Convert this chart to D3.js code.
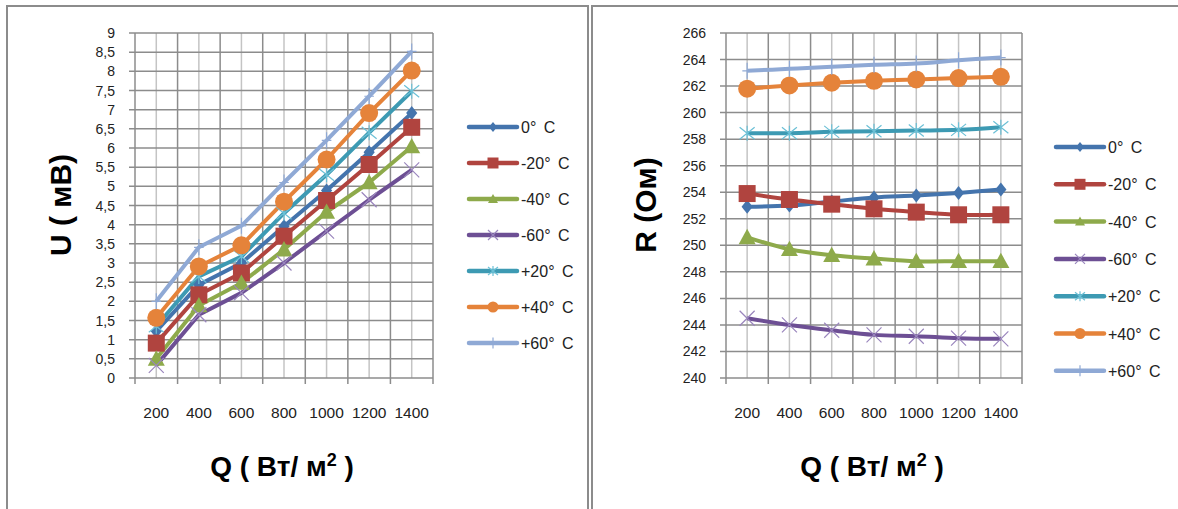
<!DOCTYPE html>
<html>
<head>
<meta charset="utf-8">
<script src="https://cdn.jsdelivr.net/npm/d3@7"></script>
<style>
body{margin:0;background:#fff;}
svg{display:block;font-family:"Liberation Sans",Arial,sans-serif;}
</style>
</head>
<body>
<svg width="1178" height="509"></svg>
<script>
// Q, W/m2
var categories = [200, 400, 600, 800, 1000, 1200, 1400];
var seriesNames = ["0° C", "-20° C", "-40° C", "-60° C", "+20° C", "+40° C", "+60° C"];
var colors = ["#4474ad", "#b0443f", "#8eaa4b", "#6d4f94", "#3d9ab3", "#e5833a", "#8fa9d5"];
var markerColors = ["#4474ad", "#b0443f", "#8eaa4b", "#9a86bd", "#6cc0d6", "#e5833a", "#8fa9d5"];
var markers = ["diamond", "square", "triangle", "x", "star", "circle", "plus"];

// U (mV)
var u_0   = [1.22, 2.43, 3.00, 3.96, 4.89, 5.89, 6.91];
var u_m20 = [0.91, 2.17, 2.74, 3.70, 4.63, 5.57, 6.54];
var u_m40 = [0.50, 1.89, 2.48, 3.35, 4.33, 5.10, 6.04];
var u_m60 = [0.33, 1.65, 2.22, 3.00, 3.83, 4.65, 5.43];
var u_p20 = [1.35, 2.65, 3.17, 4.30, 5.30, 6.40, 7.48];
var u_p40 = [1.57, 2.91, 3.46, 4.60, 5.70, 6.91, 8.02];
var u_p60 = [2.00, 3.41, 3.97, 5.10, 6.20, 7.35, 8.52];
var uTicks = [0, 0.5, 1, 1.5, 2, 2.5, 3, 3.5, 4, 4.5, 5, 5.5, 6, 6.5, 7, 7.5, 8, 8.5, 9];

// R (Ohm)
var r_0   = [252.9, 253.0, 253.3, 253.6, 253.75, 253.95, 254.2];
var r_m20 = [253.9, 253.45, 253.1, 252.75, 252.5, 252.3, 252.3];
var r_m40 = [250.6, 249.7, 249.25, 249.0, 248.8, 248.8, 248.8];
var r_m60 = [244.5, 244.0, 243.6, 243.25, 243.15, 243.0, 242.95];
var r_p20 = [258.45, 258.45, 258.55, 258.6, 258.65, 258.7, 258.9];
var r_p40 = [261.8, 262.05, 262.25, 262.4, 262.5, 262.6, 262.7];
var r_p60 = [263.15, 263.3, 263.45, 263.6, 263.7, 263.95, 264.15];
var rTicks = [240, 242, 244, 246, 248, 250, 252, 254, 256, 258, 260, 262, 264, 266];

var svg = d3.select("svg");

// chart frames
svg.append("path").attr("d", "M7,510 V6 H588 V510")
	.attr("fill", "none").attr("stroke", "#8c8c8c").attr("stroke-width", 2);
svg.append("path").attr("d", "M592,510 V6 H1180")
	.attr("fill", "none").attr("stroke", "#8c8c8c").attr("stroke-width", 2);

function markerPath(type, s){
	var h = s / 2;
	if(type == "x") return "M"+(-h)+","+(-h)+"L"+h+","+h+"M"+(-h)+","+h+"L"+h+","+(-h);
	if(type == "plus") return "M0,"+(-h)+"V"+h+"M"+(-h*0.6)+",0H"+(h*0.6);
	if(type == "star") return "M"+(-h)+","+(-h*0.8)+"L"+h+","+(h*0.8)+"M"+(-h)+","+(h*0.8)+"L"+h+","+(-h*0.8)+"M0,"+(-h)+"V"+h;
	if(type == "diamond") return "M0,"+(-h)+"L"+(h*0.8)+",0L0,"+h+"L"+(-h*0.8)+",0Z";
	if(type == "square") return "M"+(-h)+","+(-h)+"H"+h+"V"+h+"H"+(-h)+"Z";
	if(type == "triangle") return "M0,"+(-h)+"L"+h+","+(h*0.8)+"H"+(-h)+"Z";
	return d3.symbol().type(d3.symbolCircle).size(Math.PI*h*h)();
}
var markerSize = {diamond:14, square:17, triangle:17, x:15, star:15, circle:18, plus:16};
var legendSize = {diamond:10, square:11, triangle:10, x:10, star:10, circle:11, plus:11};

function drawMarker(g, type, i, s){
	var open = (type == "x" || type == "plus" || type == "star");
	g.append("path").attr("d", markerPath(type, s))
		.attr("fill", open ? "none" : markerColors[i])
		.attr("stroke", markerColors[i])
		.attr("stroke-width", open ? 1.2 : 0);
}

function drawChart(o){
	var g = svg.append("g");
	var x = d3.scaleBand().domain(categories).range([o.x0, o.x1]);
	var y = d3.scaleLinear().domain([o.ticks[0], o.ticks[o.ticks.length-1]]).range([378, 33]);
	var bw = x.bandwidth();

	// vertical grid: minor at centers, major at boundaries
	g.selectAll(null).data(categories).enter().append("line")
		.attr("x1", function(d){ return x(d)+bw/2 }).attr("x2", function(d){ return x(d)+bw/2 })
		.attr("y1", 33).attr("y2", 378).attr("stroke", "#c4c4c4").attr("stroke-width", 1.5);
	var bounds = categories.map(function(d){ return x(d) }).concat([o.x1]);
	g.selectAll(null).data(bounds).enter().append("line")
		.attr("x1", function(d){ return d }).attr("x2", function(d){ return d })
		.attr("y1", 33).attr("y2", 384).attr("stroke", "#8c8c8c").attr("stroke-width", 1.5);
	// horizontal grid
	g.selectAll(null).data(o.ticks).enter().append("line")
		.attr("x1", o.x0-6).attr("x2", o.x1)
		.attr("y1", function(d){ return y(d) }).attr("y2", function(d){ return y(d) })
		.attr("stroke", "#8c8c8c").attr("stroke-width", 1.5);

	// tick labels
	g.selectAll(null).data(o.ticks).enter().append("text")
		.attr("x", o.x0-20).attr("y", function(d){ return y(d)+5 })
		.attr("text-anchor", "end").attr("font-size", 14).attr("fill", "#222")
		.text(function(d){ return String(d).replace(".", ",") });
	g.selectAll(null).data(categories).enter().append("text")
		.attr("x", function(d){ return x(d)+bw/2 }).attr("y", 418)
		.attr("text-anchor", "middle").attr("font-size", 15.5).attr("fill", "#222")
		.text(function(d){ return d });

	// axis titles
	g.append("text").attr("transform", "translate("+o.ytx+",205) rotate(-90)")
		.attr("text-anchor", "middle").attr("font-size", 30).attr("font-weight", "bold")
		.text(o.yTitle);
	var xt = g.append("text").attr("x", (o.x0+o.x1)/2-2).attr("y", 476)
		.attr("text-anchor", "middle").attr("font-size", 28).attr("font-weight", "bold");
	xt.append("tspan").text("Q ( Вт/ м");
	xt.append("tspan").attr("dy", -10).attr("font-size", 18).text("2");
	xt.append("tspan").attr("dy", 10).text(" )");

	// series
	var line = d3.line()
		.x(function(d, j){ return x(categories[j])+bw/2 })
		.y(function(d){ return y(d) })
		.curve(o.smooth ? d3.curveCatmullRom.alpha(0.5) : d3.curveLinear);
	o.series.forEach(function(vals, i){
		g.append("path").attr("d", line(vals))
			.attr("fill", "none").attr("stroke", colors[i]).attr("stroke-width", 4)
			.attr("stroke-linejoin", "round");
	});
	o.series.forEach(function(vals, i){
		vals.forEach(function(v, j){
			var m = g.append("g").attr("transform", "translate("+(x(categories[j])+bw/2)+","+y(v)+")");
			drawMarker(m, markers[i], i, markerSize[markers[i]]);
		});
	});

	// legend
	seriesNames.forEach(function(name, i){
		var ly = o.ly0 + i*o.lstep;
		var lg = g.append("g").attr("transform", "translate("+o.lx+","+ly+")");
		lg.append("line").attr("x1", 0).attr("x2", 48).attr("stroke", colors[i])
			.attr("stroke-width", 4.5).attr("stroke-linecap", "round");
		var m = lg.append("g").attr("transform", "translate(24,0)");
		drawMarker(m, markers[i], i, legendSize[markers[i]]);
		lg.append("text").attr("x", 52).attr("y", 6).attr("font-size", 16).attr("fill", "#222")
			.attr("word-spacing", 3).text(name);
	});
}

drawChart({x0:135, x1:433, ticks:uTicks, yTitle:"U ( мВ)", ytx:71,
	series:[u_0, u_m20, u_m40, u_m60, u_p20, u_p40, u_p60], smooth:false,
	lx:469, ly0:127, lstep:36});
drawChart({x0:726, x1:1022, ticks:rTicks, yTitle:"R (Ом)", ytx:656,
	series:[r_0, r_m20, r_m40, r_m60, r_p20, r_p40, r_p60], smooth:true,
	lx:1056, ly0:147, lstep:37.3});
</script>
</body>
</html>
